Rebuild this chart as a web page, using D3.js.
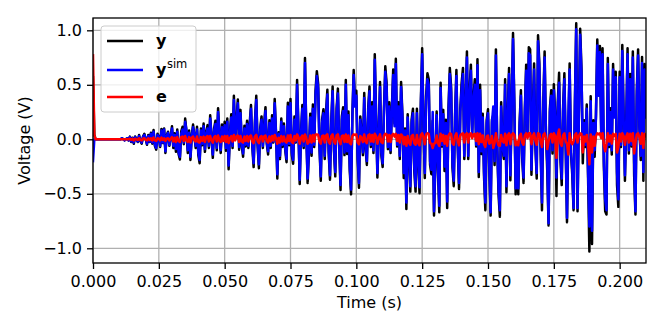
<!DOCTYPE html>
<html>
<head>
<meta charset="utf-8">
<script src="https://cdn.jsdelivr.net/npm/d3@7"></script>
<style>
  html, body { margin: 0; padding: 0; background: #fff; }
  svg { display: block; }
  text { font-family: "DejaVu Sans", sans-serif; }
</style>
</head>
<body>
<svg id="chart" width="664" height="332"></svg>
<script>
// ---------------- data ----------------
const sampleRate = 2000;            // samples per second (0.5 ms step)
const xTicks = [0, 0.025, 0.05, 0.075, 0.1, 0.125, 0.15, 0.175, 0.2];
const yTicks = [-1.0, -0.5, 0.0, 0.5, 1.0];
const seriesNames = ["y", "ysim", "e"];

// simulated output y_sim (V)
const ysimValues = [
 -0.20, 0.00, 0.00, 0.00, 0.00, 0.00, 0.00, 0.00, 0.00, 0.00, 0.00, 0.00, 0.00, 0.00, 0.00, 0.00, 0.00, 0.00, 0.00, 0.00,
 0.00, 0.00, 0.01, 0.00, -0.01, 0.00, 0.01, -0.01, 0.02, -0.02, 0.01, -0.03, 0.02, 0.00, -0.02, 0.03, -0.01, -0.03, 0.02, 0.04,
 0.01, -0.04, 0.03, -0.02, 0.05, -0.03, 0.07, -0.05, -0.08, 0.04, 0.02, -0.06, 0.08, -0.03, 0.09, -0.11, 0.03, 0.06, -0.05, 0.02,
 0.10, -0.06, 0.04, -0.09, 0.07, -0.12, -0.16, 0.05, 0.09, -0.03, 0.16, 0.08, -0.10, 0.06, -0.16, 0.02, 0.11, 0.04, -0.06, 0.09,
 -0.12, -0.19, 0.08, -0.04, 0.12, -0.09, 0.05, 0.10, -0.06, 0.19, 0.03, -0.14, 0.08, 0.14, -0.08, 0.25, 0.06, -0.10, 0.11, 0.02,
 0.13, -0.08, 0.16, -0.24, 0.05, 0.20, -0.06, 0.36, 0.02, 0.15, 0.33, -0.07, 0.24, -0.04, -0.13, 0.10, -0.05, 0.14, -0.06, 0.12,
 0.28, -0.05, -0.22, 0.14, 0.36, -0.04, -0.23, 0.08, 0.18, -0.06, 0.12, 0.26, -0.03, -0.11, 0.15, -0.06, 0.19, -0.02, 0.33, 0.05,
 -0.32, 0.05, -0.15, 0.16, -0.05, 0.12, -0.08, -0.18, 0.30, -0.04, 0.33, -0.12, -0.19, 0.18, -0.02, 0.50, 0.10, -0.37, 0.05, 0.28,
 -0.06, 0.70, 0.05, -0.36, -0.10, 0.20, -0.12, 0.28, -0.05, 0.40, 0.58, 0.47, -0.05, -0.34, 0.15, 0.24, -0.15, 0.22, 0.41, -0.10,
 -0.33, 0.15, 0.44, -0.08, -0.30, 0.25, 0.42, -0.05, -0.42, 0.18, 0.26, -0.12, 0.50, -0.11, 0.22, -0.25, -0.46, 0.20, 0.59, 0.30,
 0.40, -0.15, -0.40, 0.18, 0.05, -0.12, 0.38, -0.06, -0.20, 0.25, 0.44, -0.05, 0.30, -0.10, 0.73, 0.20, -0.31, 0.05, 0.48, -0.12,
 -0.22, 0.25, 0.62, 0.47, -0.07, 0.30, -0.10, 0.25, 0.59, 0.12, 0.69, -0.05, 0.30, -0.15, 0.48, 0.20, -0.31, 0.08, -0.58, 0.20,
 -0.15, -0.43, 0.15, 0.24, -0.25, -0.43, 0.24, -0.20, -0.44, 0.30, 0.78, 0.10, -0.31, 0.35, 0.55, 0.50, -0.20, -0.28, 0.25, -0.66,
 -0.20, 0.22, -0.25, -0.61, 0.47, -0.05, 0.23, -0.25, 0.15, -0.57, 0.25, 0.60, 0.43, -0.22, -0.38, 0.20, 0.58, -0.05, -0.40, 0.25,
 0.47, 0.60, -0.15, 0.30, 0.75, -0.15, 0.40, 0.63, 0.05, 0.35, 0.50, -0.05, 0.68, -0.30, 0.45, -0.11, 0.20, -0.30, -0.58, 0.15,
 0.24, -0.25, -0.67, 0.15, 0.30, -0.20, 0.77, -0.05, -0.45, -0.65, 0.30, -0.05, -0.15, 0.50, -0.43, 0.20, 0.60, -0.33, 0.30, 0.92,
 0.30, -0.45, -0.05, -0.45, 0.12, 0.40, -0.15, -0.35, 0.25, 0.63, 0.05, 0.79, 0.77, -0.28, 0.20, 0.64, -0.05, -0.31, 0.90, 0.65,
 -0.10, -0.58, 0.30, 0.75, 0.05, -0.20, -0.77, 0.25, 0.40, -0.10, 0.45, 0.20, -0.35, 0.30, 0.52, -0.15, -0.36, 0.25, 0.55, -0.05,
 -0.72, 0.20, 0.64, -0.10, -0.28, -0.63, 0.30, 1.01, -0.63, 0.20, 0.96, 0.60, -0.10, 0.15, -0.05, 0.28, -0.30, -0.80, 0.35, -0.84,
 0.15, -0.10, 0.20, 0.86, 0.40, 0.80, 0.05, 0.78, -0.20, -0.55, -0.65, 0.69, -0.05, 0.25, -0.10, 0.64, 0.20, 0.57, -0.30, -0.55,
 0.57, -0.05, 0.81, 0.20, -0.33, 0.15, 0.78, -0.10, 0.55, -0.05, 0.75, -0.20, -0.66, 0.40, 0.77, 0.10, -0.15, 0.70, -0.30, 0.64, 0.20
];

// residual e = y - y_sim (V)
const errorValues = [
 0.77, 0.04, 0.00, 0.00, 0.00, 0.00, 0.00, 0.00, 0.00, 0.00, 0.00, 0.00, 0.00, 0.00, 0.00, 0.00, 0.00, 0.00, 0.00, 0.00,
 0.00, 0.00, 0.00, 0.00, 0.00, 0.00, 0.00, 0.00, 0.005, -0.005, 0.005, -0.01, 0.005, 0.00, -0.005, 0.01, -0.005, -0.01, 0.005, 0.01,
 -0.005, -0.01, 0.01, -0.005, 0.01, -0.01, 0.015, -0.01, -0.015, 0.01, 0.005, -0.01, 0.015, -0.005, 0.01, -0.015, 0.005, 0.01, -0.01, 0.005,
 0.02, -0.02, 0.015, -0.025, 0.02, -0.015, -0.025, 0.02, 0.025, -0.015, 0.03, -0.01, -0.025, 0.02, -0.03, 0.015, 0.025, -0.01, -0.02, 0.025,
 -0.025, -0.03, 0.02, -0.015, 0.025, -0.025, 0.02, 0.03, -0.02, 0.03, -0.01, -0.03, 0.02, 0.03, -0.02, 0.035, -0.01, -0.025, 0.025, -0.015,
 0.03, -0.025, 0.03, -0.035, 0.01, 0.03, -0.02, 0.04, -0.01, 0.025, 0.035, -0.025, 0.03, -0.02, -0.03, 0.025, -0.015, 0.03, -0.02, 0.025,
 0.035, -0.02, -0.035, 0.025, 0.04, -0.015, -0.035, 0.02, 0.03, -0.02, 0.025, 0.035, -0.015, -0.03, 0.025, -0.02, 0.03, -0.01, 0.04, 0.01,
 -0.04, 0.015, -0.03, 0.03, -0.02, 0.025, -0.02, -0.03, 0.035, -0.015, 0.04, -0.025, -0.035, 0.03, -0.01, 0.045, 0.02, -0.04, 0.015, 0.035,
 -0.02, 0.045, 0.01, -0.04, -0.025, 0.035, -0.03, 0.04, -0.02, 0.045, 0.045, 0.04, -0.02, -0.04, 0.03, 0.035, -0.03, 0.035, 0.045, -0.025,
 -0.04, 0.03, 0.045, -0.02, -0.04, 0.035, 0.045, -0.015, -0.045, 0.03, 0.035, -0.025, 0.045, -0.025, 0.035, -0.035, -0.045, 0.03, 0.045, 0.04,
 0.045, -0.03, -0.045, 0.03, 0.015, -0.025, 0.045, -0.02, -0.035, 0.035, 0.045, -0.02, 0.04, -0.025, 0.05, 0.03, -0.04, 0.015, 0.045, -0.025,
 -0.035, 0.035, 0.05, 0.045, -0.02, 0.04, -0.025, 0.035, 0.05, 0.025, 0.05, -0.015, 0.04, -0.03, 0.045, 0.03, -0.045, 0.02, -0.06, 0.03,
 -0.03, -0.05, 0.03, 0.04, -0.035, -0.05, 0.04, -0.035, -0.055, 0.04, 0.055, 0.02, -0.045, 0.045, 0.055, 0.05, -0.035, -0.04, -0.08, -0.04,
 -0.035, 0.035, -0.035, -0.06, 0.05, -0.015, 0.04, -0.04, 0.03, -0.06, 0.035, 0.055, 0.05, -0.035, -0.05, 0.03, 0.055, -0.015, -0.055, 0.035,
 0.05, 0.055, -0.03, 0.045, 0.055, -0.03, 0.05, 0.055, 0.01, 0.045, 0.05, -0.015, 0.055, -0.045, 0.05, -0.025, 0.035, -0.045, -0.07, 0.025,
 0.035, -0.04, -0.03, 0.03, -0.08, -0.035, 0.055, -0.015, -0.055, -0.06, 0.04, -0.015, -0.03, 0.05, -0.055, 0.035, 0.055, -0.045, 0.04, 0.055,
 0.04, -0.055, -0.02, -0.055, 0.03, 0.05, -0.03, -0.05, 0.035, 0.055, 0.01, 0.055, 0.055, -0.045, 0.03, 0.055, -0.015, -0.05, 0.055, 0.05,
 -0.02, -0.07, 0.04, 0.055, 0.015, -0.09, -0.02, 0.035, 0.05, -0.03, 0.055, 0.03, -0.17, 0.04, 0.09, -0.035, -0.06, 0.035, 0.055, -0.02,
 -0.04, -0.14, 0.055, -0.02, -0.045, -0.02, 0.04, 0.055, -0.03, 0.03, 0.055, 0.05, -0.12, 0.025, -0.02, 0.04, -0.05, -0.23, 0.045, -0.12,
 0.025, -0.06, 0.03, 0.055, 0.045, 0.055, 0.01, 0.055, -0.05, -0.11, -0.04, 0.055, -0.02, 0.035, -0.04, 0.05, 0.03, 0.05, -0.12, -0.07,
 0.05, -0.02, 0.055, 0.03, -0.05, 0.025, 0.055, -0.03, 0.05, -0.015, 0.055, -0.13, -0.03, 0.045, 0.055, 0.02, -0.04, 0.055, -0.08, 0.05, 0.03
];

// measured output y = y_sim + e (definition of the residual)
const measuredValues = ysimValues.map((v, i) => v + errorValues[i]);

// ---------------- chart ----------------
const W = 664, H = 332;
const M = { left: 93, right: 18, top: 18, bottom: 69 };
const pw = W - M.left - M.right;  // 553
const ph = H - M.top - M.bottom;  // 245

const svg = d3.select("#chart");
const x = d3.scaleLinear().domain([0, 0.21]).range([M.left, M.left + pw]);
const y = d3.scaleLinear().domain([-1.135, 1.113]).range([M.top + ph, M.top]);

svg.append("defs").append("clipPath").attr("id", "clip")
  .append("rect").attr("x", M.left).attr("y", M.top).attr("width", pw).attr("height", ph);

// grid
const grid = svg.append("g");
grid.selectAll("line.gx").data(xTicks).join("line")
  .attr("x1", d => x(d)).attr("x2", d => x(d))
  .attr("y1", M.top).attr("y2", M.top + ph)
  .attr("stroke", "#b0b0b0").attr("stroke-width", 1.3);
grid.selectAll("line.gy").data(yTicks).join("line")
  .attr("x1", M.left).attr("x2", M.left + pw)
  .attr("y1", d => y(d)).attr("y2", d => y(d))
  .attr("stroke", "#b0b0b0").attr("stroke-width", 1.3);

// series
const series = [
  { name: "y", values: measuredValues, color: "#000000" },
  { name: "ysim", values: ysimValues, color: "#0000ff" },
  { name: "e", values: errorValues, color: "#ff0000" }
];
const line = d3.line()
  .x((d, i) => x(i / sampleRate))
  .y(d => y(d));
const plot = svg.append("g").attr("clip-path", "url(#clip)");
series.forEach(s => {
  plot.append("path")
    .datum(s.values)
    .attr("d", line)
    .attr("fill", "none")
    .attr("stroke", s.color)
    .attr("stroke-width", 2.5)
    .attr("stroke-linejoin", "round")
    .attr("stroke-linecap", "square");
});

// axes
const fmtX = d3.format(".3f");
const fmtY = d3.format(".1f");
const xAxis = svg.append("g").attr("transform", `translate(0,${M.top + ph})`)
  .call(d3.axisBottom(x).tickValues(xTicks).tickFormat(fmtX).tickSize(6).tickPadding(7));
const yAxis = svg.append("g").attr("transform", `translate(${M.left},0)`)
  .call(d3.axisLeft(y).tickValues(yTicks).tickFormat(fmtY).tickSize(6).tickPadding(5));
[xAxis, yAxis].forEach(a => {
  a.select(".domain").remove();
  a.selectAll(".tick line").attr("stroke", "#000").attr("stroke-width", 1.3);
  a.selectAll(".tick text").attr("font-family", "DejaVu Sans").attr("font-size", 16).attr("fill", "#000");
});

// frame
svg.append("rect")
  .attr("x", M.left).attr("y", M.top).attr("width", pw).attr("height", ph)
  .attr("fill", "none").attr("stroke", "#000").attr("stroke-width", 1.3);

// axis labels
svg.append("text")
  .attr("x", M.left + pw / 2).attr("y", 308)
  .attr("text-anchor", "middle").attr("font-size", 16)
  .text("Time (s)");
svg.append("text")
  .attr("transform", `translate(30,${M.top + ph / 2}) rotate(-90)`)
  .attr("text-anchor", "middle").attr("font-size", 16)
  .text("Voltage (V)");

// legend
const lg = svg.append("g");
lg.append("rect")
  .attr("x", 101).attr("y", 26).attr("width", 95).attr("height", 86)
  .attr("rx", 3).attr("fill", "#fff").attr("fill-opacity", 0.8)
  .attr("stroke", "#cccccc").attr("stroke-width", 1);
const legendRows = [41, 70, 97];
series.forEach((s, k) => {
  const ly = legendRows[k];
  lg.append("line")
    .attr("x1", 107).attr("x2", 143).attr("y1", ly).attr("y2", ly)
    .attr("stroke", s.color).attr("stroke-width", 2.5);
  const t = lg.append("text").attr("x", 156).attr("y", ly + 5)
    .attr("font-size", 16).attr("font-weight", "bold");
  if (s.name === "ysim") {
    t.append("tspan").text("y");
    t.append("tspan").attr("font-weight", "normal").attr("font-size", 11.5)
      .attr("dy", -7).attr("dx", 0.5).text("sim");
  } else {
    t.text(s.name);
  }
});
</script>
</body>
</html>
